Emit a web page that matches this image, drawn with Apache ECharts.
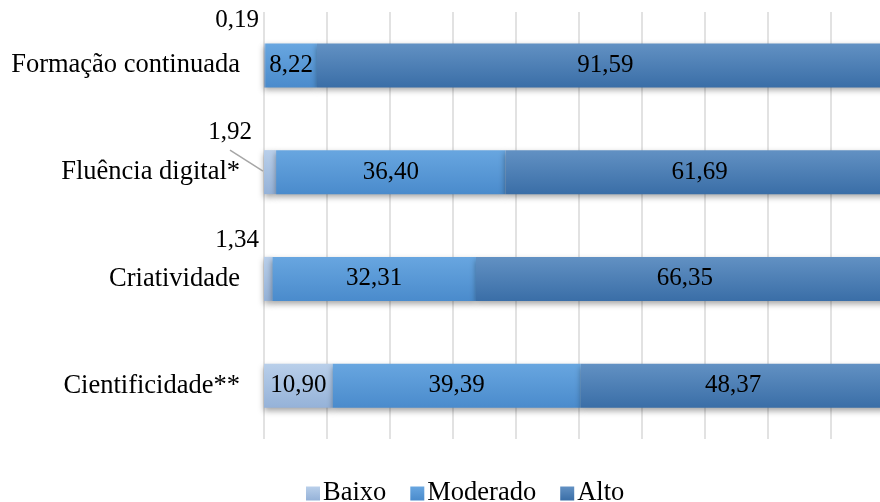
<!DOCTYPE html>
<html>
<head>
<meta charset="utf-8">
<script src="https://cdn.jsdelivr.net/npm/echarts@6/dist/echarts.min.js"></script>
<style>
  html, body { margin: 0; padding: 0; background: #fff; overflow: hidden; }
  /* o gráfico original continua um pouco para além da margem direita */
  #chart { width: 894px; height: 502px; }
</style>
</head>
<body>
<div id="chart"></div>
<script>
// categorias (de cima para baixo)
var categories = ['Formação continuada', 'Fluência digital*', 'Criatividade', 'Cientificidade**'];
// valores em %
var baixo = [0.19, 1.92, 1.34, 10.90];
var moderado = [8.22, 36.40, 32.31, 39.39];
var alto = [91.59, 61.69, 66.35, 48.37];

var serif = '"Liberation Serif", "DejaVu Serif", serif';

function grad(top, bottom) {
  return new echarts.graphic.LinearGradient(0, 0, 0, 1, [
    { offset: 0, color: top },
    { offset: 1, color: bottom }
  ]);
}

function fmt(v) {
  return v.toFixed(2).replace('.', ',');
}

var shadow = {
  shadowColor: 'rgba(0,0,0,0.35)',
  shadowBlur: 6,
  shadowOffsetY: 3
};

// deslocamento dos rótulos pequenos do "Baixo" (fora da barra, acima à esquerda)
var outsideOffset = [[-27, -23], [-34, -18], [-27, -16]];

var chart = echarts.init(document.getElementById('chart'));
chart.setOption({
  animation: false,
  textStyle: { fontFamily: serif },
  grid: { left: 264, top: 12, right: 0, height: 427, containLabel: false },
  legend: {
    left: 301,
    top: 475,
    itemWidth: 14,
    itemHeight: 14,
    itemGap: 24,
    icon: 'rect',
    textStyle: { fontFamily: serif, fontSize: 26.5, color: '#000', padding: [0, 0, 0, -2] },
    data: ['Baixo', 'Moderado', 'Alto']
  },
  xAxis: {
    type: 'value',
    min: 0,
    max: 100,
    interval: 10,
    axisLabel: { show: false },
    axisLine: { show: false },
    axisTick: { show: false },
    splitLine: { lineStyle: { color: '#d9d9d9', width: 1.5 } }
  },
  yAxis: {
    type: 'category',
    inverse: true,
    data: categories,
    axisLine: { show: false },
    axisTick: { show: false },
    axisLabel: { margin: 24, fontFamily: serif, fontSize: 26.5, color: '#000' }
  },
  series: [
    {
      name: 'Baixo',
      type: 'bar',
      stack: 'total',
      barWidth: 44,
      itemStyle: Object.assign({ color: grad('#b9cfea', '#95b2d8') }, shadow),
      label: {
        show: true,
        fontFamily: serif,
        fontSize: 25,
        color: '#000',
        formatter: function (p) { return fmt(p.value); }
      },
      labelLayout: function (p) {
        var o = outsideOffset[p.dataIndex];
        if (!o) return {};
        return { x: p.rect.x + o[0], y: p.rect.y + o[1], align: 'center', verticalAlign: 'middle' };
      },
      data: baixo
    },
    {
      name: 'Moderado',
      type: 'bar',
      stack: 'total',
      itemStyle: Object.assign({ color: grad('#68a6e0', '#4a8bcc') }, shadow),
      label: {
        show: true,
        position: 'inside',
        fontFamily: serif,
        fontSize: 25,
        color: '#000',
        formatter: function (p) { return fmt(p.value); }
      },
      data: moderado
    },
    {
      name: 'Alto',
      type: 'bar',
      stack: 'total',
      itemStyle: Object.assign({ color: grad('#6291c3', '#3a6ea7') }, shadow),
      label: {
        show: true,
        position: 'inside',
        fontFamily: serif,
        fontSize: 25,
        color: '#000',
        formatter: function (p) { return fmt(p.value); }
      },
      data: alto
    }
  ]
});

// linha de chamada do rótulo "1,92" (Fluência digital)
var p = chart.convertToPixel({ xAxisIndex: 0, yAxisIndex: 0 }, [0, 1]);
chart.setOption({
  graphic: [{
    type: 'polyline',
    silent: true,
    z: 10,
    shape: { points: [[p[0] - 34, p[1] - 22], [p[0] - 1, p[1] - 1]] },
    style: { stroke: '#a6a6a6', lineWidth: 1.5, fill: null }
  }]
});
</script>
</body>
</html>
